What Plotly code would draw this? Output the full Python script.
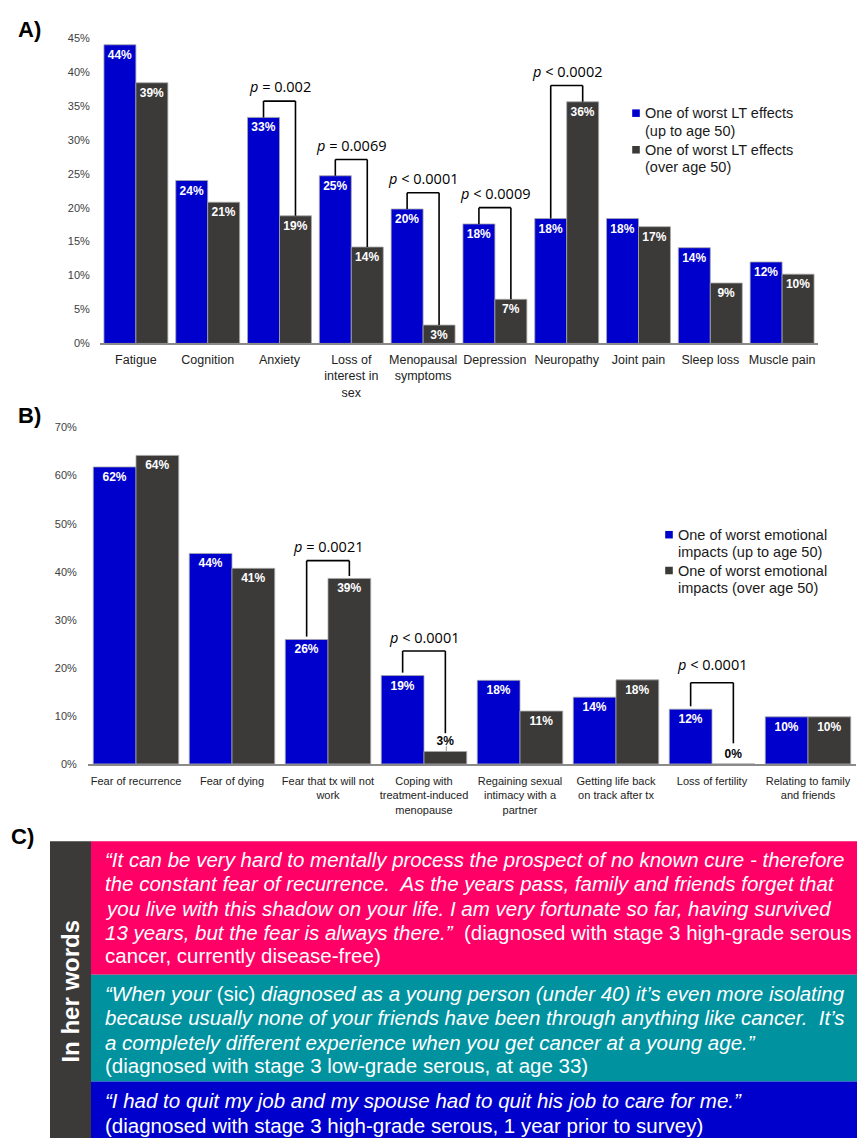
import plotly.graph_objects as go

W, H = 857, 1144

# ---------------- data ----------------
a_categories = ["Fatigue", "Cognition", "Anxiety", "Loss of<br>interest in<br>sex",
                "Menopausal<br>symptoms", "Depression", "Neuropathy", "Joint pain",
                "Sleep loss", "Muscle pain"]
a_up_to_50 = [44.0, 24.0, 33.3, 24.7, 19.8, 17.6, 18.4, 18.4, 14.1, 12.0]
a_over_50 = [38.4, 20.8, 18.8, 14.2, 2.7, 6.5, 35.6, 17.2, 8.9, 10.2]
a_up_to_50_labels = ["44%", "24%", "33%", "25%", "20%", "18%", "18%", "18%", "14%", "12%"]
a_over_50_labels = ["39%", "21%", "19%", "14%", "3%", "7%", "36%", "17%", "9%", "10%"]
a_tick_values = [0, 5, 10, 15, 20, 25, 30, 35, 40, 45]
a_tick_labels = ["0%", "5%", "10%", "15%", "20%", "25%", "30%", "35%", "40%", "45%"]
a_pvalue_index = [2, 3, 4, 5, 6]
a_pvalue_text = ["= 0.002", "= 0.0069", "< 0.0001", "< 0.0009", "< 0.0002"]
a_series_names = ["One of worst LT effects", "(up to age 50)",
                  "One of worst LT effects", "(over age 50)"]

b_categories = ["Fear of recurrence", "Fear of dying", "Fear that tx will not<br>work",
                "Coping with<br>treatment-induced<br>menopause",
                "Regaining sexual<br>intimacy with a<br>partner",
                "Getting life back<br>on track after tx", "Loss of fertility",
                "Relating to family<br>and friends"]
b_up_to_50 = [61.8, 43.8, 25.9, 18.4, 17.4, 13.9, 11.4, 9.8]
b_over_50 = [64.2, 40.7, 38.6, 2.6, 11.0, 17.5, 0.0, 9.8]
b_up_to_50_labels = ["62%", "44%", "26%", "19%", "18%", "14%", "12%", "10%"]
b_over_50_labels = ["64%", "41%", "39%", "3%", "11%", "18%", "0%", "10%"]
b_tick_values = [0, 10, 20, 30, 40, 50, 60, 70]
b_tick_labels = ["0%", "10%", "20%", "30%", "40%", "50%", "60%", "70%"]
b_pvalue_index = [2, 3, 6]
b_pvalue_text = ["= 0.0021", "< 0.0001", "< 0.0001"]
b_series_names = ["One of worst emotional", "impacts (up to age 50)",
                  "One of worst emotional", "impacts (over age 50)"]

c_side_title = "In her words"
c_quote1 = ["<i>\u201cIt can be very hard to mentally process the prospect of no known cure - therefore</i>",
            "<i>the constant fear of recurrence.\u00a0 As the years pass, family and friends forget that</i>",
            "<i>you live with this shadow on your life. I am very fortunate so far, having survived</i>",
            "<i>13 years, but the fear is always there.\u201d</i>\u00a0 (diagnosed with stage 3 high-grade serous",
            "cancer, currently disease-free)"]
c_quote2 = ["<i>\u201cWhen your</i> (sic) <i>diagnosed as a young person (under 40) it\u2019s even more isolating</i>",
            "<i>because usually none of your friends have been through anything like cancer.\u00a0 It\u2019s</i>",
            "<i>a completely different experience when you get cancer at a young age.\u201d</i>",
            "(diagnosed with stage 3 low-grade serous, at age 33)"]
c_quote3 = ["<i>\u201cI had to quit my job and my spouse had to quit his job to care for me.\u201d</i>",
            "(diagnosed with stage 3 high-grade serous, 1 year prior to survey)"]

# ---------------- style ----------------
BLUE = "#0000CC"
GRAY = "#3B3A39"
PINK = "#FF0066"
TEAL = "#00939F"
FONT = "Liberation Sans, Arial, sans-serif"
PFONT = "Open Sans, Liberation Sans, sans-serif"
BARGAP = 0.11
HALF = (1 - BARGAP) / 4  # offset of bar centre from category centre


def px(x):
    return x / W


def py(y):
    return 1 - y / H


fig = go.Figure()

bar_common = dict(constraintext="none", cliponaxis=False, insidetextanchor="end",
                  marker_line=dict(color="#A8A8A8", width=0.8))
bar_text = dict(family=FONT, size=12, weight="bold")

fig.add_trace(go.Bar(x=a_categories, y=a_up_to_50, text=a_up_to_50_labels,
                     textposition="inside", textfont=dict(color="white", **bar_text),
                     marker_color=BLUE, xaxis="x", yaxis="y", showlegend=False, **bar_common))
fig.add_trace(go.Bar(x=a_categories, y=a_over_50, text=a_over_50_labels,
                     textposition="inside", textfont=dict(color="white", **bar_text),
                     marker_color=GRAY, xaxis="x", yaxis="y", showlegend=False, **bar_common))

b_over_pos = ["inside", "inside", "inside", "outside", "inside", "inside", "outside", "inside"]
b_over_col = ["white" if p == "inside" else "black" for p in b_over_pos]
fig.add_trace(go.Bar(x=b_categories, y=b_up_to_50, text=b_up_to_50_labels,
                     textposition="inside", textfont=dict(color="white", **bar_text),
                     marker_color=BLUE, xaxis="x2", yaxis="y2", showlegend=False, **bar_common))
fig.add_trace(go.Bar(x=b_categories, y=b_over_50, text=b_over_50_labels,
                     textposition=b_over_pos, textfont=dict(color=b_over_col, **bar_text),
                     marker_color=GRAY, xaxis="x2", yaxis="y2", showlegend=False, **bar_common))

shapes = []
annotations = []


def bracket(xref, yref, i, top, lb, rb, label, label_y):
    xl, xr = i - HALF, i + HALF
    line = dict(color="black", width=1.6)
    for (x0, y0, x1, y1) in [(xl, lb, xl, top), (xl, top, xr, top), (xr, top, xr, rb)]:
        shapes.append(dict(type="line", xref=xref, yref=yref, x0=x0, y0=y0, x1=x1, y1=y1,
                           line=line))
    annotations.append(dict(xref=xref, yref=yref, x=i, y=label_y, text="<i>p</i> " + label,
                            showarrow=False, xanchor="center", yanchor="middle",
                            font=dict(family=PFONT, size=14.5, color="black")))


# Panel A brackets (bracket top a fixed offset above the taller bar)
for i, t in zip(a_pvalue_index, a_pvalue_text):
    top = max(a_up_to_50[i], a_over_50[i]) + 2.4
    bracket("x", "y", i, top, a_up_to_50[i], a_over_50[i], t, top + 2.1)

# Panel B brackets
b_tops = [42.3, 23.5, 16.9]
b_right_bottom = [b_over_50[2] + 0.5, 6.4, 4.3]
b_label_y = [45.3, 26.4, 20.6]
for k, (i, t) in enumerate(zip(b_pvalue_index, b_pvalue_text)):
    bracket("x2", "y2", i, b_tops[k], b_up_to_50[i] + 0.6, b_right_bottom[k], t, b_label_y[k])

# small leader line for the 3% label in panel B
shapes.append(dict(type="line", xref="x2", yref="y2", x0=3 + HALF + 0.01, x1=3 + HALF + 0.01,
                   y0=b_over_50[3], y1=b_over_50[3] + 1.1, line=dict(color="#999999", width=1)))


# Legends (drawn manually)
def legend(x_sq, x_txt, ys, names, sq_half=3.8, size=14.5):
    for k, (y, name) in enumerate(zip(ys, names)):
        annotations.append(dict(xref="paper", yref="paper", x=px(x_txt), y=py(y), text=name,
                                showarrow=False, xanchor="left", yanchor="middle",
                                font=dict(family=FONT, size=size, color="#1A1A1A")))
    for y, col in [(ys[0], BLUE), (ys[2], GRAY)]:
        shapes.append(dict(type="rect", xref="paper", yref="paper",
                           x0=px(x_sq - sq_half), x1=px(x_sq + sq_half),
                           y0=py(y + sq_half), y1=py(y - sq_half),
                           fillcolor=col, line=dict(width=0)))


legend(636, 643, [108.3, 126.0, 145.3, 163.0], a_series_names)
legend(669, 676, [534.3, 552.0, 570.5, 588.0], b_series_names)

# Panel letters
for letter, x, y in [("A)", 29, 24), ("B)", 29, 414), ("C)", 22, 839)]:
    annotations.append(dict(xref="paper", yref="paper", x=px(x), y=py(y), text="<b>%s</b>" % letter,
                            showarrow=False, xanchor="center", yanchor="middle",
                            font=dict(family=FONT, size=22, color="black")))

# Panel C boxes
boxes = [(50, 91, 844, H, GRAY), (91, W, 844, 979, PINK), (91, W, 979, 1087, TEAL),
         (91, W, 1087, H, BLUE)]
for x0, x1, y0, y1, col in boxes:
    shapes.append(dict(type="rect", xref="paper", yref="paper", x0=px(x0), x1=px(x1),
                       y0=py(y1), y1=py(y0), fillcolor=col, line=dict(width=0), layer="below"))

annotations.append(dict(xref="paper", yref="paper", x=px(70.5), y=py(995.5),
                        text="<b>%s</b>" % c_side_title, textangle=-90, showarrow=False,
                        xanchor="center", yanchor="middle",
                        font=dict(family=FONT, size=24, color="white")))

line_ys = [[862.3, 886.7, 911.7, 936.0, 960.0],
           [998.3, 1022.7, 1047.3, 1070.7],
           [1106.0, 1131.0]]
for lines, ys in zip([c_quote1, c_quote2, c_quote3], line_ys):
    for t, y in zip(lines, ys):
        annotations.append(dict(xref="paper", yref="paper", x=px(103), y=py(y), text=t,
                                showarrow=False, xanchor="left", yanchor="middle",
                                font=dict(family=FONT, size=20.5, color="white")))

axis_common = dict(showgrid=False, zeroline=False, fixedrange=True)

fig.update_layout(
    width=W, height=H, margin=dict(l=0, r=0, t=0, b=0),
    paper_bgcolor="white", plot_bgcolor="rgba(0,0,0,0)",
    barmode="group", bargap=BARGAP, bargroupgap=0,
    showlegend=False,
    font=dict(family=FONT),
    xaxis=dict(domain=[px(100), px(818)], anchor="y", type="category",
               tickfont=dict(size=12.5, color="#222222"), ticks="outside", ticklen=4,
               tickcolor="rgba(0,0,0,0)", showline=True, linecolor="#8A8A8A", linewidth=1.5,
               **axis_common),
    yaxis=dict(domain=[py(341), py(32.3)], anchor="x", range=[0, 45],
               tickvals=a_tick_values, ticktext=a_tick_labels,
               tickfont=dict(size=11, color="#404040"), ticks="outside", ticklen=7,
               tickcolor="rgba(0,0,0,0)", showline=False, **axis_common),
    xaxis2=dict(domain=[px(88), px(856)], anchor="y2", type="category",
                tickfont=dict(size=11, color="#222222"), ticks="outside", ticklen=6,
                tickcolor="rgba(0,0,0,0)", showline=True, linecolor="#8A8A8A", linewidth=1.5,
                **axis_common),
    yaxis2=dict(domain=[py(766), py(426)], anchor="x2", range=[0, 70],
                tickvals=b_tick_values, ticktext=b_tick_labels,
                tickfont=dict(size=11, color="#404040"), ticks="outside", ticklen=8,
                tickcolor="rgba(0,0,0,0)", showline=False, **axis_common),
    shapes=shapes,
    annotations=annotations,
)

fig.write_html("out.html")
